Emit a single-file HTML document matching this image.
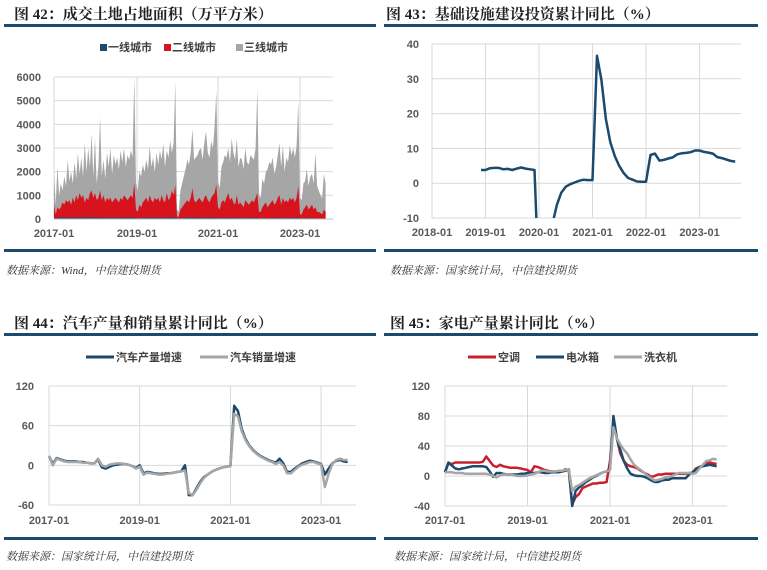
<!DOCTYPE html>
<html><head><meta charset="utf-8">
<style>
body{margin:0;width:767px;height:570px;background:#fff;overflow:hidden;font-family:"Liberation Sans","Noto Sans CJK SC",sans-serif}
svg{position:absolute;left:0;top:0}
.t{font-family:"Liberation Serif","Noto Serif CJK SC",serif;font-size:15px;font-weight:bold;fill:#222}
.ax{font-size:11px;font-weight:bold;fill:#595959}
.src{font-family:"Liberation Serif","Noto Serif CJK SC",serif;font-size:11px;font-style:italic;fill:#333}
.lg{font-size:11px;font-weight:bold;fill:#404040}
</style></head><body>
<svg id="s" width="767" height="570">
<defs>
<clipPath id="c2"><rect x="432" y="40" width="312" height="178"/></clipPath>
</defs>
<g>
<text class="t" x="14" y="19">图 42：成交土地占地面积（万平方米）</text>
<rect x="4" y="24" width="372" height="3" fill="#1a4a6e"/>
<rect x="4" y="249" width="372" height="3" fill="#1a4a6e"/>
<text class="src" x="6" y="274">数据来源：Wind，中信建投期货</text>
<rect x="100" y="44" width="7" height="7" fill="#1a4a6e"/>
<text class="lg" x="108" y="51">一线城市</text>
<rect x="164" y="44" width="7" height="7" fill="#d7141e"/>
<text class="lg" x="172" y="51">二线城市</text>
<rect x="236" y="44" width="7" height="7" fill="#a6a6a6"/>
<text class="lg" x="244" y="51">三线城市</text>
<g id="p1"></g>
</g>
<g>
<text class="t" x="386" y="19">图 43：基础设施建设投资累计同比（%）</text>
<rect x="384" y="24" width="374" height="3" fill="#1a4a6e"/>
<rect x="384" y="249" width="374" height="3" fill="#1a4a6e"/>
<text class="src" x="390" y="274">数据来源：国家统计局，中信建投期货</text>
<g id="p2"></g>
</g>
<g>
<text class="t" x="14" y="328">图 44：汽车产量和销量累计同比（%）</text>
<rect x="4" y="333" width="372" height="3" fill="#1a4a6e"/>
<rect x="4" y="537" width="372" height="3" fill="#1a4a6e"/>
<text class="src" x="6" y="560">数据来源：国家统计局，中信建投期货</text>
<line x1="86" y1="357" x2="114" y2="357" stroke="#1a4a6e" stroke-width="3"/>
<text class="lg" x="116" y="361">汽车产量增速</text>
<line x1="200" y1="357" x2="228" y2="357" stroke="#a6a6a6" stroke-width="3"/>
<text class="lg" x="230" y="361">汽车销量增速</text>
<g id="p3"></g>
</g>
<g>
<text class="t" x="390" y="328">图 45：家电产量累计同比（%）</text>
<rect x="384" y="333" width="374" height="3" fill="#1a4a6e"/>
<rect x="384" y="537" width="374" height="3" fill="#1a4a6e"/>
<text class="src" x="394" y="560">数据来源：国家统计局，中信建投期货</text>
<line x1="468" y1="357" x2="496" y2="357" stroke="#c8202c" stroke-width="3"/>
<text class="lg" x="498" y="361">空调</text>
<line x1="536" y1="357" x2="564" y2="357" stroke="#1a4a6e" stroke-width="3"/>
<text class="lg" x="566" y="361">电冰箱</text>
<line x1="614" y1="357" x2="642" y2="357" stroke="#a6a6a6" stroke-width="3"/>
<text class="lg" x="644" y="361">洗衣机</text>
<g id="p4"></g>
</g>
</svg>
<script>
const landTicks = ["0","1000","2000","3000","4000","5000","6000"];
const landTickVals = [0,1000,2000,3000,4000,5000,6000];
const landXLabels = ["2017-01","2019-01","2021-01","2023-01"];
const tier3 = [2000,600,2200,1000,1500,1200,1800,1400,2500,1600,2000,1500,2400,1700,2800,1900,2600,1800,3200,2000,3000,2200,3600,1800,
3400,1500,2200,4300,1800,2500,1700,2800,2200,3000,1900,2700,2300,2600,2100,2900,2400,3000,2200,2700,2500,2900,2600,6000,
1500,1200,2000,1800,2300,2000,2500,2100,3100,2200,2600,2000,2800,2300,2900,2500,3200,2200,2900,2600,3300,2800,3200,5800,
400,300,1200,1500,1800,2100,2500,2300,2800,3800,2500,2600,2700,2900,3000,2500,3200,3700,2800,2600,3300,3000,3900,5400,
1600,1300,2200,2400,2700,2600,3000,2400,3400,2800,2500,3400,2200,2600,2500,2100,3000,2400,2300,2700,2600,2500,3000,5500,
1000,900,1700,1500,2000,2100,2400,2300,2600,1900,2200,2700,3200,2200,3100,2000,2600,2400,3100,2700,3000,2600,3100,4950,
900,800,1500,1600,2100,1400,1800,1900,1500,2800,1400,1200,1000,900,1900,1500];
const tier2 = [600,200,500,400,500,700,600,800,700,800,600,900,700,1000,800,1100,900,1000,700,900,800,1100,1200,900,
1100,800,900,1200,800,1000,700,900,800,900,700,800,900,800,700,900,800,1000,900,800,900,1000,900,1500,
400,300,600,500,700,800,900,700,1000,800,700,900,800,900,700,1000,800,700,1100,800,900,1200,1000,1450,
100,100,400,500,600,700,800,700,900,1300,800,700,800,900,800,700,900,1000,800,700,900,1000,1100,1450,
500,400,700,800,700,900,1100,800,900,700,600,1000,600,700,600,500,800,700,600,700,800,700,900,1100,
300,300,500,600,700,500,600,700,800,600,700,900,1000,600,900,700,800,700,900,800,900,700,900,1400,
200,200,400,500,600,400,500,600,400,500,300,300,250,200,400,300];
const tier1 = [60,40,50,60,50,70,60,50,60,70,50,60,60,70,50,60,70,60,50,60,70,60,80,60,
70,50,60,70,50,60,50,60,50,60,50,60,60,50,50,60,50,70,60,50,60,70,60,90,
40,30,50,40,50,60,60,50,60,50,50,60,50,60,50,60,50,50,60,50,60,70,60,80,
20,20,40,50,50,60,60,50,60,70,50,50,60,60,50,50,60,60,50,50,60,60,70,80,
40,30,50,50,50,60,60,50,60,50,40,60,40,50,40,40,50,50,40,50,50,50,60,70,
20,20,30,40,40,30,40,40,50,40,40,50,60,40,50,40,50,40,50,50,50,40,50,80,
20,20,30,30,40,30,30,40,30,30,20,20,20,20,30,20];

const infraTicks = ["-10","0","10","20","30","40"];
const infraTickVals = [-10,0,10,20,30,40];
const infraXLabels = ["2018-01","2019-01","2020-01","2021-01","2022-01","2023-01"];
const infra = [3.8,3.8,4.3,4.4,4.4,4.0,4.1,3.8,4.2,4.5,4.2,4.0,3.8,
-30,-30,-19.7,-11.8,-6.3,-2.7,-1.0,-0.3,0.2,0.7,1.0,0.9,
0.9,36.6,29.7,18.4,11.8,7.8,4.9,2.9,1.5,1.0,0.5,0.4,
0.4,8.1,8.5,6.5,6.7,7.1,7.4,8.3,8.6,8.7,8.9,9.4,
9.4,9.0,8.8,8.5,7.5,7.2,6.8,6.4,6.2];

const autoTicks = ["-60","0","60","120"];
const autoTickVals = [-60,0,60,120];
const autoXLabels = ["2017-01","2019-01","2021-01","2023-01"];
const autoProd = [14,2,11,9,7,6,6,6,5,5,4,3, 3,9,-3,-5,-2,0,1,2,2,1,-1,-4, 0,-12,-10,-11,-12,-13,-13,-12,-12,-11,-10,-9,
0,-45,-45,-35,-25,-18,-14,-10,-7,-5,-3,-2, -1,90,82,55,40,30,23,18,14,11,8,6, 4,10,3,-10,-10,-5,-1,3,5,7,6,4, 2,-14,-5,3,7,8,6,5];
const autoSales = [14,0,10,8,6,5,5,5,5,4,4,3, 3,10,0,-2,1,2,3,3,2,1,-1,-5, -2,-14,-11,-12,-13,-14,-14,-13,-12,-11,-10,-9,
-8,-42,-45,-37,-27,-19,-14,-10,-7,-5,-3,-2, -1,78,74,52,38,29,22,17,13,10,7,5, 2,5,0,-12,-12,-7,-2,1,3,5,5,3, 1,-33,-12,2,8,10,8,8];

const applTicks = ["-40","0","40","80","120"];
const applTickVals = [-40,0,40,80,120];
const applXLabels = ["2017-01","2019-01","2021-01","2023-01"];
const acProd = [5,17,16,18,18,18,18,18,18,18,18,19, 26,20,14,12,15,13,12,11,11,11,10,9, 8,5,13,12,10,8,7,6,6,6,6,9,
8,-38,-28,-24,-16,-14,-12,-10,-10,-9,-9,-8, 20,70,50,30,20,15,13,12,10,7,4,2, -1,0,2,2,3,3,3,3,3,3,3,4, 4,10,12,14,17,18,17,16];
const fridgeProd = [5,18,14,10,9,10,11,12,13,13,13,13, 12,6,-1,4,4,3,2,2,2,2,3,3, 4,4,4,5,5,4,4,5,5,5,6,7,
9,-40,-20,-15,-12,-8,-5,-2,0,3,5,6, 10,80,50,35,20,10,3,1,0,0,-1,-3, -6,-8,-8,-6,-5,-5,-3,-3,-3,-3,-3,2, 5,9,12,13,14,15,14,13];
const washerProd = [5,5,5,4,4,4,3,3,3,3,3,3, 3,2,0,-2,1,2,2,2,1,0,0,0, 1,2,3,5,7,7,6,6,6,7,7,8,
9,-20,-14,-12,-9,-6,-3,-1,1,3,5,6, 8,65,50,42,35,30,22,15,11,8,4,0, -3,-6,-5,-4,-2,-1,0,2,4,4,4,4, 3,4,10,15,20,21,23,22];

const NS="http://www.w3.org/2000/svg";
function mk(tag,parent,attrs){const e=document.createElementNS(NS,tag);for(const k in attrs)e.setAttribute(k,attrs[k]);parent.appendChild(e);return e;}
function lin(d0,d1,r0,r1){return v=>r0+(v-d0)*(r1-r0)/(d1-d0);}

function yAxis(g,vals,labels,y,x0,x1,lx,name){
  vals.forEach((v,i)=>{
    const l=mk('line',g,{x1:x0,x2:x1,y1:y(v),y2:y(v),stroke:'#d9d9d9','stroke-width':1});
    
    
    const t=mk('text',g,{x:lx,y:y(v)+4,'text-anchor':'end',class:'ax'});t.textContent=labels[i];
    
    
  });
}
function xAxis(g,labels,xs,y0,y1,ly,name,grid){
  labels.forEach((lab,i)=>{
    if(grid){const l=mk('line',g,{x1:xs[i],x2:xs[i],y1:y0,y2:y1,stroke:'#d9d9d9','stroke-width':1});
    
    }
    const t=mk('text',g,{x:xs[i],y:ly,'text-anchor':'middle',class:'ax'});t.textContent=lab;
    
    
  });
}
function line(g,vals,x,y,color,w,name,clip){
  const pts=vals.map((v,i)=>x(i).toFixed(1)+','+y(v).toFixed(1)).join(' ');
  const a={points:pts,fill:'none',stroke:color,'stroke-width':w,'stroke-linejoin':'round'};
  if(clip)a['clip-path']=clip;
  const p=mk('polyline',g,a);
  
  
}
function area(g,vals,x,y,color,name){
  let d='M'+x(0)+','+y(0);
  vals.forEach((v,i)=>{d+=' L'+x(i).toFixed(1)+','+y(v).toFixed(1);});
  d+=' L'+x(vals.length-1).toFixed(1)+','+y(0)+' Z';
  const p=mk('path',g,{d:d,fill:color});
  
  
}

(function(){
  const g=document.getElementById('p1');
  const y=lin(0,6000,219,77), x=lin(0,24,54,95);
  yAxis(g,landTickVals,landTicks,y,54,333,41,'land');
  xAxis(g,landXLabels,[54,137,218,300],77,219,237,'land',true);
  area(g,tier3,x,y,'#a6a6a6','area-tier3');
  area(g,tier2,x,y,'#d7141e','area-tier2');
  area(g,tier1,x,y,'#1a4a6e','area-tier1');
  const ax=mk('line',g,{x1:54,x2:333,y1:219,y2:219,stroke:'#bfbfbf'});
  
  
})();
(function(){
  const g=document.getElementById('p2');
  const y=lin(-10,40,218,44), xm=lin(0,12,432,485.5);
  yAxis(g,infraTickVals,infraTicks,y,432,741,419,'infra');
  xAxis(g,infraXLabels,[0,12,24,36,48,60].map(xm),44,218,236,'infra',true);
  line(g,infra,i=>xm(i+11),y,'#1a4a6e',2.5,'line-infra','url(#c2)');
})();
(function(){
  const g=document.getElementById('p3');
  const y=lin(-60,120,505,386), xm=lin(0,24,49,139.7);
  yAxis(g,autoTickVals,autoTicks,y,49,356,34,'auto');
  xAxis(g,autoXLabels,[0,24,48,72].map(xm),386,505,524,'auto',true);
  line(g,autoProd,xm,y,'#1a4a6e',2.5,'line-auto-production');
  line(g,autoSales,xm,y,'#a6a6a6',2.5,'line-auto-sales');
})();
(function(){
  const g=document.getElementById('p4');
  const y=lin(-40,120,506,386), xm=lin(0,24,445,527.5);
  yAxis(g,applTickVals,applTicks,y,445,727,430,'appl');
  xAxis(g,applXLabels,[0,24,48,72].map(xm),386,506,524,'appl',true);
  line(g,acProd,xm,y,'#c8202c',2.5,'line-ac');
  line(g,fridgeProd,xm,y,'#1a4a6e',2.5,'line-fridge');
  line(g,washerProd,xm,y,'#a6a6a6',2.5,'line-washer');
})();
</script>
</body></html>
